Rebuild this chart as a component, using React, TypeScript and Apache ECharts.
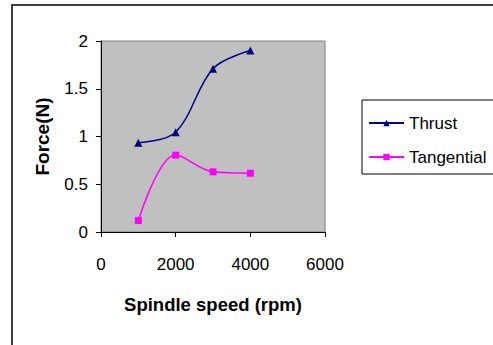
import React, { useEffect, useRef } from "react";
import * as echarts from "echarts";

const speeds = [1000, 2000, 3000, 4000];
const thrust = [0.935, 1.045, 1.71, 1.9];
const tangential = [0.12, 0.805, 0.63, 0.615];
const xTicks = [0, 2000, 4000, 6000];
const yTicks = [0, 0.5, 1, 1.5, 2];

export default function App() {
  const ref = useRef<HTMLDivElement>(null);
  useEffect(() => {
    document.body.style.margin = "0";
    const chart = echarts.init(ref.current!, null, { renderer: "svg" });
    const font = "'Liberation Sans', Arial, sans-serif";
    chart.setOption({
      animation: false,
      backgroundColor: "#ffffff",
      textStyle: { fontFamily: font },
      graphic: [
        {
          type: "rect",
          shape: { x: 12, y: 5, width: 500, height: 360 },
          style: { fill: "none", stroke: "#000", lineWidth: 1.5 },
          z: 100,
        },
      ],
      grid: {
        left: 101,
        top: 41,
        width: 224,
        height: 191,
        show: true,
        backgroundColor: "#c0c0c0",
        borderColor: "#808080",
        borderWidth: 1,
      },
      legend: {
        orient: "vertical",
        left: 362,
        top: 100,
        padding: [13, 20, 7, 6],
        itemGap: 14,
        itemWidth: 35,
        itemHeight: 8,
        borderColor: "#000",
        borderWidth: 1,
        textStyle: { fontFamily: font, fontSize: 17, lineHeight: 20, color: "#000" },
        data: ["Thrust", "Tangential"],
      },
      xAxis: {
        type: "value",
        min: 0,
        max: 6000,
        interval: 2000,
        name: "Spindle speed (rpm)",
        nameLocation: "middle",
        nameGap: 63,
        nameTextStyle: { fontFamily: font, fontSize: 18.5, fontWeight: "bold", color: "#000" },
        axisLine: { show: true, lineStyle: { color: "#000" } },
        axisTick: { show: true, length: 5, lineStyle: { color: "#000" } },
        axisLabel: {
          fontFamily: font,
          fontSize: 17,
          color: "#000",
          margin: 24,
          formatter: (v: number) => (xTicks.includes(v) ? String(v) : ""),
        },
        splitLine: { show: false },
      },
      yAxis: {
        type: "value",
        min: 0,
        max: 2,
        interval: 0.5,
        name: "Force(N)",
        nameLocation: "middle",
        nameGap: 49,
        nameRotate: 90,
        nameTextStyle: { fontFamily: font, fontSize: 19, fontWeight: "bold", color: "#000" },
        axisLine: { show: true, lineStyle: { color: "#000" } },
        axisTick: { show: true, length: 5, lineStyle: { color: "#000" } },
        axisLabel: {
          fontFamily: font,
          fontSize: 17,
          color: "#000",
          margin: 13,
          formatter: (v: number) => (yTicks.includes(v) ? String(v) : ""),
        },
        splitLine: { show: false },
      },
      series: [
        {
          name: "Thrust",
          type: "line",
          smooth: 0.35,
          data: speeds.map((s, i) => [s, thrust[i]]),
          symbol: "triangle",
          symbolSize: 8,
          lineStyle: { color: "#000080", width: 1.5 },
          itemStyle: { color: "#000080" },
        },
        {
          name: "Tangential",
          type: "line",
          smooth: 0.35,
          data: speeds.map((s, i) => [s, tangential[i]]),
          symbol: "rect",
          symbolSize: 7,
          lineStyle: { color: "#ff00ff", width: 1.5 },
          itemStyle: { color: "#ff00ff" },
        },
      ],
    });
    return () => chart.dispose();
  }, []);
  return <div ref={ref} style={{ width: 493, height: 345 }} />;
}
